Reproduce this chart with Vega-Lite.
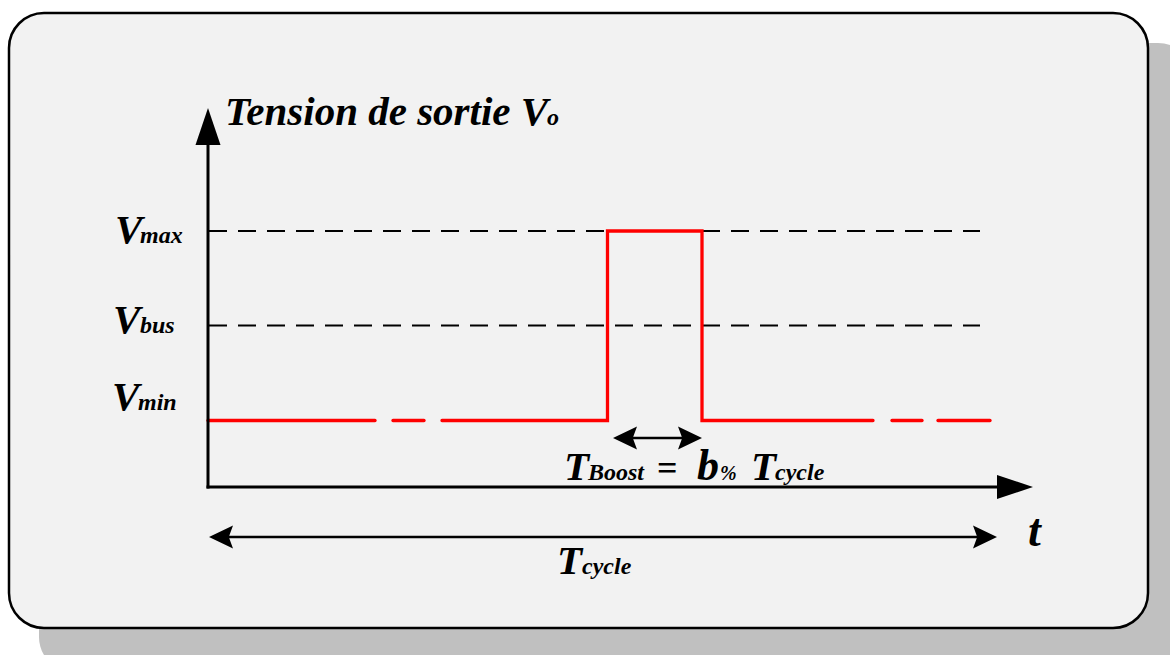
{
  "$schema": "https://vega.github.io/schema/vega-lite/v6.json",
  "width": 1170,
  "height": 655,
  "padding": 0,
  "autosize": {"type": "none"},
  "background": "white",
  "config": {"view": {"stroke": null}},
  "datasets": {
    "frame": [{"name": "shadow", "x": -169, "x2": 985, "y": 444, "y2": -185}],
    "box": [{"name": "box", "x": -199, "x2": 940, "y": 474, "y2": -141}],
    "levels": [
      {"level": "Vmax", "x": 1, "x2": 772, "v": 256},
      {"level": "Vbus", "x": 1, "x2": 772, "v": 161.5}
    ],
    "signal": [
      {"seg": 1, "ord": 1, "t": 0, "v": 66.5},
      {"seg": 1, "ord": 2, "t": 167, "v": 66.5},
      {"seg": 2, "ord": 1, "t": 185, "v": 66.5},
      {"seg": 2, "ord": 2, "t": 216, "v": 66.5},
      {"seg": 3, "ord": 1, "t": 234, "v": 66.5},
      {"seg": 3, "ord": 2, "t": 399.5, "v": 66.5},
      {"seg": 3, "ord": 3, "t": 399.5, "v": 256},
      {"seg": 3, "ord": 4, "t": 494, "v": 256},
      {"seg": 3, "ord": 5, "t": 494, "v": 66.5},
      {"seg": 3, "ord": 6, "t": 665, "v": 66.5},
      {"seg": 4, "ord": 1, "t": 684, "v": 66.5},
      {"seg": 4, "ord": 2, "t": 714, "v": 66.5},
      {"seg": 5, "ord": 1, "t": 730, "v": 66.5},
      {"seg": 5, "ord": 2, "t": 782, "v": 66.5}
    ],
    "axes": [
      {"name": "V axis", "x": 0, "x2": 0, "y": -1.5, "y2": 347},
      {"name": "t axis", "x": -1.5, "x2": 792, "y": 0, "y2": 0}
    ],
    "spans": [
      {"name": "Tcycle", "x": 12, "x2": 777, "y": -50, "y2": -50},
      {"name": "TBoost", "x": 417, "x2": 482, "y": 49, "y2": 49}
    ],
    "headUp": [{"x": 0, "y": 360.5}],
    "headRight": [{"x": 807, "y": 0}],
    "headSmallRight": [{"x": 777, "y": -50}, {"x": 482, "y": 49}],
    "headSmallLeft": [{"x": 13, "y": -50}, {"x": 417, "y": 49}],
    "textTitle": [{"label": "Tension de sortie V", "x": 17, "y": 362}],
    "textMain": [
      {"label": "V", "x": -93, "y": 244},
      {"label": "V", "x": -95, "y": 154},
      {"label": "V", "x": -96, "y": 77},
      {"label": "T", "x": 356, "y": 7},
      {"label": "T", "x": 543, "y": 7},
      {"label": "T", "x": 349, "y": -87}
    ],
    "textSub": [
      {"label": "o", "x": 339, "y": 362},
      {"label": "max", "x": -68, "y": 244},
      {"label": "bus", "x": -68, "y": 154},
      {"label": "min", "x": -70, "y": 77},
      {"label": "Boost", "x": 380, "y": 7},
      {"label": "cycle", "x": 567, "y": 7},
      {"label": "cycle", "x": 374, "y": -87}
    ],
    "textEq": [{"label": "=", "x": 449, "y": 7}],
    "textB": [{"label": "b", "x": 489, "y": 7}],
    "textPct": [{"label": "%", "x": 512, "y": 7}],
    "textT": [{"label": "t", "x": 820, "y": -59}]
  },
  "encoding": {
    "x": {"type": "quantitative", "scale": {"domain": [-208, 962], "nice": false, "zero": false}, "axis": null},
    "y": {"type": "quantitative", "scale": {"domain": [-168, 487], "nice": false, "zero": false}, "axis": null}
  },
  "layer": [
    {
      "data": {"name": "frame"},
      "mark": {"type": "rect", "fill": "#c0c0c0", "cornerRadius": 35},
      "encoding": {"x": {"field": "x", "type": "quantitative"}, "x2": {"field": "x2"}, "y": {"field": "y", "type": "quantitative"}, "y2": {"field": "y2"}}
    },
    {
      "data": {"name": "box"},
      "mark": {"type": "rect", "fill": "#f2f2f2", "stroke": "black", "strokeWidth": 2.5, "cornerRadius": 35},
      "encoding": {"x": {"field": "x", "type": "quantitative"}, "x2": {"field": "x2"}, "y": {"field": "y", "type": "quantitative"}, "y2": {"field": "y2"}}
    },
    {
      "data": {"name": "levels"},
      "mark": {"type": "rule", "color": "black", "strokeWidth": 2.2, "strokeDash": [18, 11]},
      "encoding": {"x": {"field": "x", "type": "quantitative"}, "x2": {"field": "x2"}, "y": {"field": "v", "type": "quantitative"}}
    },
    {
      "data": {"name": "signal"},
      "mark": {"type": "line", "color": "#ff0000", "strokeWidth": 3.3, "strokeCap": "round", "strokeJoin": "miter"},
      "encoding": {
        "x": {"field": "t", "type": "quantitative"},
        "y": {"field": "v", "type": "quantitative"},
        "detail": {"field": "seg", "type": "nominal"},
        "order": {"field": "ord", "type": "quantitative"}
      }
    },
    {
      "data": {"name": "axes"},
      "mark": {"type": "rule", "color": "black", "strokeWidth": 3},
      "encoding": {"x": {"field": "x", "type": "quantitative"}, "x2": {"field": "x2"}, "y": {"field": "y", "type": "quantitative"}, "y2": {"field": "y2"}}
    },
    {
      "data": {"name": "spans"},
      "mark": {"type": "rule", "color": "black", "strokeWidth": 2.5},
      "encoding": {"x": {"field": "x", "type": "quantitative"}, "x2": {"field": "x2"}, "y": {"field": "y", "type": "quantitative"}, "y2": {"field": "y2"}}
    },
    {
      "data": {"name": "headUp"},
      "mark": {"type": "point", "shape": "M0,-1L0.676,1L-0.676,1Z", "filled": true, "color": "black", "opacity": 1, "size": 1369, "strokeWidth": 0},
      "encoding": {"x": {"field": "x", "type": "quantitative"}, "y": {"field": "y", "type": "quantitative"}}
    },
    {
      "data": {"name": "headRight"},
      "mark": {"type": "point", "shape": "M1,0L-1,-0.667L-1,0.667Z", "filled": true, "color": "black", "opacity": 1, "size": 1296, "strokeWidth": 0},
      "encoding": {"x": {"field": "x", "type": "quantitative"}, "y": {"field": "y", "type": "quantitative"}}
    },
    {
      "data": {"name": "headSmallRight"},
      "mark": {"type": "point", "shape": "M1,0L-1,-0.95L-0.65,0L-1,0.95Z", "filled": true, "color": "black", "opacity": 1, "size": 576, "strokeWidth": 0},
      "encoding": {"x": {"field": "x", "type": "quantitative"}, "y": {"field": "y", "type": "quantitative"}}
    },
    {
      "data": {"name": "headSmallLeft"},
      "mark": {"type": "point", "shape": "M-1,0L1,-0.95L0.65,0L1,0.95Z", "filled": true, "color": "black", "opacity": 1, "size": 576, "strokeWidth": 0},
      "encoding": {"x": {"field": "x", "type": "quantitative"}, "y": {"field": "y", "type": "quantitative"}}
    },
    {
      "data": {"name": "textTitle"},
      "mark": {"type": "text", "font": "Liberation Serif", "fontStyle": "italic", "fontWeight": "bold", "fontSize": 41, "align": "left", "baseline": "alphabetic", "color": "black"},
      "encoding": {"x": {"field": "x", "type": "quantitative"}, "y": {"field": "y", "type": "quantitative"}, "text": {"field": "label"}}
    },
    {
      "data": {"name": "textMain"},
      "mark": {"type": "text", "font": "Liberation Serif", "fontStyle": "italic", "fontWeight": "bold", "fontSize": 41, "align": "left", "baseline": "alphabetic", "color": "black"},
      "encoding": {"x": {"field": "x", "type": "quantitative"}, "y": {"field": "y", "type": "quantitative"}, "text": {"field": "label"}}
    },
    {
      "data": {"name": "textSub"},
      "mark": {"type": "text", "font": "Liberation Serif", "fontStyle": "italic", "fontWeight": "bold", "fontSize": 24, "align": "left", "baseline": "alphabetic", "color": "black"},
      "encoding": {"x": {"field": "x", "type": "quantitative"}, "y": {"field": "y", "type": "quantitative"}, "text": {"field": "label"}}
    },
    {
      "data": {"name": "textEq"},
      "mark": {"type": "text", "font": "Liberation Serif", "fontWeight": "bold", "fontSize": 36, "align": "left", "baseline": "alphabetic", "color": "black"},
      "encoding": {"x": {"field": "x", "type": "quantitative"}, "y": {"field": "y", "type": "quantitative"}, "text": {"field": "label"}}
    },
    {
      "data": {"name": "textB"},
      "mark": {"type": "text", "font": "Liberation Serif", "fontStyle": "italic", "fontWeight": "bold", "fontSize": 44, "align": "left", "baseline": "alphabetic", "color": "black"},
      "encoding": {"x": {"field": "x", "type": "quantitative"}, "y": {"field": "y", "type": "quantitative"}, "text": {"field": "label"}}
    },
    {
      "data": {"name": "textPct"},
      "mark": {"type": "text", "font": "Liberation Serif", "fontStyle": "italic", "fontWeight": "bold", "fontSize": 20, "align": "left", "baseline": "alphabetic", "color": "black"},
      "encoding": {"x": {"field": "x", "type": "quantitative"}, "y": {"field": "y", "type": "quantitative"}, "text": {"field": "label"}}
    },
    {
      "data": {"name": "textT"},
      "mark": {"type": "text", "font": "Liberation Serif", "fontStyle": "italic", "fontWeight": "bold", "fontSize": 46, "align": "left", "baseline": "alphabetic", "color": "black"},
      "encoding": {"x": {"field": "x", "type": "quantitative"}, "y": {"field": "y", "type": "quantitative"}, "text": {"field": "label"}}
    }
  ]
}
